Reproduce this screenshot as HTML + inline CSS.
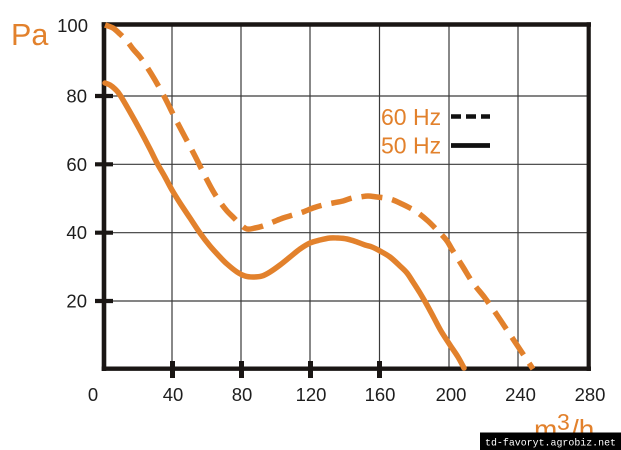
<!DOCTYPE html>
<html>
<head>
<meta charset="utf-8">
<style>
html,body{margin:0;padding:0;background:#fff;}
body{width:621px;height:450px;overflow:hidden;position:relative;}
svg{position:absolute;left:0;top:0;}
</style>
</head>
<body>
<svg id="chart" width="621" height="450" viewBox="0 0 621 450" xmlns="http://www.w3.org/2000/svg">
  <rect x="0" y="0" width="621" height="450" fill="#ffffff"/>
  <!-- grid -->
  <g stroke="#3a3a3a" stroke-width="1.2" fill="none">
    <line x1="172" y1="24" x2="172" y2="369"/>
    <line x1="241" y1="24" x2="241" y2="369"/>
    <line x1="310" y1="24" x2="310" y2="369"/>
    <line x1="379.5" y1="24" x2="379.5" y2="369"/>
    <line x1="449" y1="24" x2="449" y2="369"/>
    <line x1="518" y1="24" x2="518" y2="369"/>
    <line x1="104" y1="96" x2="589" y2="96"/>
    <line x1="104" y1="164.3" x2="589" y2="164.3"/>
    <line x1="104" y1="232.7" x2="589" y2="232.7"/>
    <line x1="104" y1="301" x2="589" y2="301"/>
  </g>
  <!-- frame -->
  <g stroke="#1a1614" fill="none">
    <line x1="104" y1="22.3" x2="104" y2="371" stroke-width="4.6"/>
    <line x1="101.7" y1="368.7" x2="591" y2="368.7" stroke-width="4.4"/>
    <line x1="101.7" y1="24.5" x2="591" y2="24.5" stroke-width="4.4"/>
    <line x1="588.7" y1="22.3" x2="588.7" y2="371" stroke-width="4.2"/>
  </g>
  <!-- ticks -->
  <g stroke="#1a1614" stroke-width="4.2">
    <line x1="95" y1="96" x2="113" y2="96"/>
    <line x1="95" y1="164.3" x2="113" y2="164.3"/>
    <line x1="95" y1="232.7" x2="113" y2="232.7"/>
    <line x1="95" y1="301" x2="113" y2="301"/>
  </g>
  <g stroke="#1a1614" stroke-width="5">
    <line x1="172.5" y1="361" x2="172.5" y2="378"/>
    <line x1="241.5" y1="361" x2="241.5" y2="378"/>
    <line x1="310.5" y1="361" x2="310.5" y2="378"/>
    <line x1="379.5" y1="361" x2="379.5" y2="378"/>
  </g>
  <!-- curves -->
  <polyline class="smooth" fill="none" stroke="#E2812C" stroke-width="5.5" stroke-dasharray="21 10" stroke-linejoin="round"
    points="105,25 113,28 120,34 127,41 133,49 140,57 147,67 155,80 165,98 175,118 185,137 195,156 205,176 213,191 220,202 227,211 233,217 240,224 247,229 255,228 263,226 273,222 283,218 293,215 303,212 313,208 323,205 333,203 343,201 352,198 360,197 368,196 377,197 385,198 393,200 402,204 410,208 417,212 428,221 436,229 440,233 447,241 453,251 463,267 473,283 485,298 497,315 507,330 517,345 525,357 533,369"/>
  <polyline class="smooth" fill="none" stroke="#E2812C" stroke-width="5.5" stroke-linejoin="round" stroke-linecap="round"
    points="105,83 110,85 115,89 120,95 130,112 140,130 150,149 157,163 165,177 172,190 180,203 190,218 200,233 210,246 220,257 227,264 237,272 245,276 253,277 262,276 270,272 280,265 290,257 300,249 310,243 320,240 330,238 337,238 347,239 357,242 365,245 372,247 380,251 390,257 400,266 407,273 413,282 420,293 427,305 434,318 441,331 450,345 458,357 464,368"/>
  <!-- y labels -->
  <g font-family="Liberation Sans, Arial, sans-serif" font-size="18.5" fill="#1e1e1e" text-anchor="end">
    <text x="88" y="32">100</text>
    <text x="87" y="102.5">80</text>
    <text x="87" y="171">60</text>
    <text x="87" y="239">40</text>
    <text x="87" y="307.5">20</text>
  </g>
  <!-- x labels -->
  <g font-family="Liberation Sans, Arial, sans-serif" font-size="18.5" fill="#1e1e1e" text-anchor="middle">
    <text x="93" y="401">0</text>
    <text x="173" y="401">40</text>
    <text x="242" y="401">80</text>
    <text x="311" y="401">120</text>
    <text x="380" y="401">160</text>
    <text x="451" y="401">200</text>
    <text x="520.5" y="401">240</text>
    <text x="590" y="401">280</text>
  </g>
  <!-- axis titles -->
  <text x="11" y="45" font-family="Liberation Sans, Arial, sans-serif" font-size="30.5" fill="#E2812C">Pa</text>
  <text x="534" y="439" font-family="Liberation Sans, Arial, sans-serif" font-size="28" fill="#E2812C">m</text>
  <text x="557" y="430" font-family="Liberation Sans, Arial, sans-serif" font-size="23" fill="#E2812C">3</text>
  <text x="571" y="439" font-family="Liberation Sans, Arial, sans-serif" font-size="28" fill="#E2812C">/h</text>
  <!-- legend -->
  <g font-family="Liberation Sans, Arial, sans-serif" font-size="23" fill="#E2812C">
    <text x="381" y="125">60 Hz</text>
    <text x="381" y="153.5">50 Hz</text>
  </g>
  <line x1="451" y1="116.5" x2="490" y2="116.5" stroke="#111" stroke-width="4.6" stroke-dasharray="10 5"/>
  <line x1="451" y1="145.5" x2="490" y2="145.5" stroke="#111" stroke-width="4.8"/>
  <!-- watermark -->
  <rect x="480" y="432.5" width="141" height="17.5" fill="#000"/>
  <text x="485" y="445.5" font-family="Liberation Mono, DejaVu Sans Mono, monospace" font-size="10.5" fill="#fff" textLength="131" lengthAdjust="spacingAndGlyphs">td-favoryt.agrobiz.net</text>
</svg>
<script>
(function(){
  var NS="http://www.w3.org/2000/svg";
  var pls=document.querySelectorAll("polyline.smooth");
  for(var i=0;i<pls.length;i++){
    var pl=pls[i];
    var raw=pl.getAttribute("points").trim().split(/\s+/);
    var p=raw.map(function(s){var a=s.split(",");return [parseFloat(a[0]),parseFloat(a[1])];});
    var d="M"+p[0][0]+","+p[0][1];
    for(var k=0;k<p.length-1;k++){
      var p0=p[k-1]||p[k],p1=p[k],p2=p[k+1],p3=p[k+2]||p[k+1];
      var c1x=p1[0]+(p2[0]-p0[0])/6,c1y=p1[1]+(p2[1]-p0[1])/6;
      var c2x=p2[0]-(p3[0]-p1[0])/6,c2y=p2[1]-(p3[1]-p1[1])/6;
      d+=" C"+c1x.toFixed(2)+","+c1y.toFixed(2)+" "+c2x.toFixed(2)+","+c2y.toFixed(2)+" "+p2[0]+","+p2[1];
    }
    var path=document.createElementNS(NS,"path");
    path.setAttribute("d",d);
    var attrs=["fill","stroke","stroke-width","stroke-dasharray","stroke-linejoin","stroke-linecap"];
    for(var j=0;j<attrs.length;j++){var v=pl.getAttribute(attrs[j]);if(v!==null)path.setAttribute(attrs[j],v);}
    pl.parentNode.replaceChild(path,pl);
  }
})();
</script>
</body>
</html>
